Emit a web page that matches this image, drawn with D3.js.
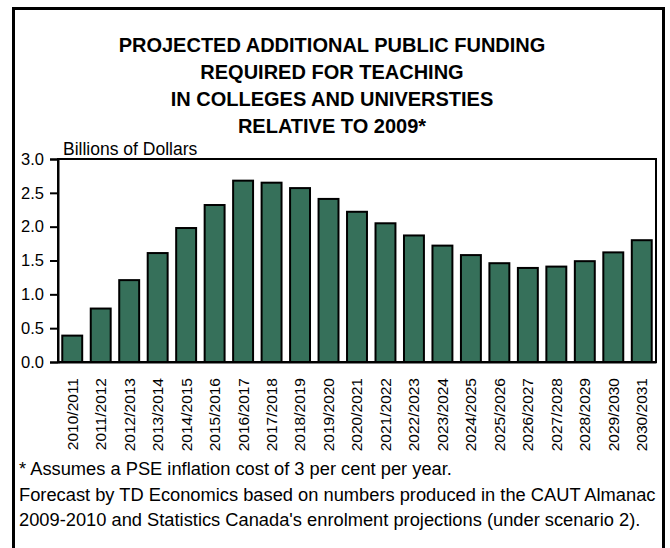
<!DOCTYPE html>
<html>
<head>
<meta charset="utf-8">
<script src="https://cdn.jsdelivr.net/npm/d3@7"></script>
<style>
  html, body { margin: 0; padding: 0; background: #fff; }
  svg { display: block; font-family: "Liberation Sans", Arial, sans-serif; }
</style>
</head>
<body>
<svg id="chart" width="670" height="548"></svg>
<script>
// Academic years on the category axis
const years = [
  "2010/2011", "2011/2012", "2012/2013", "2013/2014", "2014/2015", "2015/2016",
  "2016/2017", "2017/2018", "2018/2019", "2019/2020", "2020/2021", "2021/2022",
  "2022/2023", "2023/2024", "2024/2025", "2025/2026", "2026/2027", "2027/2028",
  "2028/2029", "2029/2030", "2030/2031"
];

// Additional public funding needed, billions of dollars
const funding = [
  0.39, 0.79, 1.21, 1.61, 1.98, 2.32, 2.68, 2.65, 2.57, 2.41, 2.22,
  2.05, 1.87, 1.72, 1.58, 1.46, 1.39, 1.41, 1.49, 1.62, 1.80
];

const yTicks = [0, 0.5, 1.0, 1.5, 2.0, 2.5, 3.0];

const titleLines = [
  "PROJECTED ADDITIONAL PUBLIC FUNDING",
  "REQUIRED FOR TEACHING",
  "IN COLLEGES AND UNIVERSTIES",
  "RELATIVE TO 2009*"
];

const noteLines = [
  "* Assumes a PSE inflation cost of 3 per cent per year.",
  "Forecast by TD Economics based on numbers produced in the CAUT Almanac",
  "2009-2010 and Statistics Canada's enrolment projections (under scenario 2)."
];

const svg = d3.select("#chart");

// Outer frame (open at the bottom)
svg.append("path")
  .attr("d", "M13.5,560 V8.5 H663.5 V560")
  .attr("fill", "none")
  .attr("stroke", "#000")
  .attr("stroke-width", 3);

// Title
svg.append("g").selectAll("text")
  .data(titleLines)
  .join("text")
  .attr("x", 332)
  .attr("y", (d, i) => 52 + i * 27)
  .attr("text-anchor", "middle")
  .attr("font-weight", "bold")
  .attr("font-size", 20)
  .text(d => d);

const plot = { left: 58, right: 656, top: 159, bottom: 362 };

const x = d3.scaleBand()
  .domain(years)
  .range([plot.left, plot.right])
  .paddingInner(0.3)
  .paddingOuter(0.15);

const y = d3.scaleLinear()
  .domain([0, 3])
  .range([plot.bottom, plot.top]);

// Unit label
svg.append("text")
  .attr("x", 63)
  .attr("y", 155)
  .attr("font-size", 17.5)
  .text("Billions of Dollars");

// Bars
svg.append("g").selectAll("rect")
  .data(funding)
  .join("rect")
  .attr("x", (d, i) => x(years[i]))
  .attr("y", d => y(d))
  .attr("width", x.bandwidth())
  .attr("height", d => y(0) - y(d))
  .attr("fill", "#36705a")
  .attr("stroke", "#000")
  .attr("stroke-width", 2);

// Plot border
svg.append("rect")
  .attr("x", plot.left)
  .attr("y", plot.top)
  .attr("width", plot.right - plot.left)
  .attr("height", plot.bottom - plot.top)
  .attr("fill", "none")
  .attr("stroke", "#000")
  .attr("stroke-width", 2);

// Y axis
const yAxis = svg.append("g")
  .attr("transform", `translate(${plot.left},0)`)
  .call(d3.axisLeft(y).tickValues(yTicks).tickFormat(d3.format(".1f")).tickSize(8).tickPadding(6));
yAxis.select(".domain").attr("stroke-width", 2);
yAxis.selectAll(".tick line").attr("stroke-width", 2);
yAxis.selectAll(".tick text")
  .attr("font-size", 16.5)
  .attr("font-family", "Liberation Sans, Arial, sans-serif")
  .attr("fill", "#000");

// X axis with vertical year labels
const xAxis = svg.append("g")
  .attr("transform", `translate(0,${plot.bottom})`)
  .call(d3.axisBottom(x).tickSize(0));
xAxis.select(".domain").attr("stroke-width", 2);
xAxis.selectAll(".tick text")
  .attr("font-size", 15.5)
  .attr("font-family", "Liberation Sans, Arial, sans-serif")
  .attr("fill", "#000")
  .attr("transform", "rotate(-90)")
  .attr("text-anchor", "end")
  .attr("x", -16)
  .attr("y", 0)
  .attr("dy", "0.35em");

// Footnotes
svg.append("g").selectAll("text")
  .data(noteLines)
  .join("text")
  .attr("x", 19)
  .attr("y", (d, i) => 475 + i * 25.5)
  .attr("font-size", 18.3)
  .text(d => d);
</script>
</body>
</html>
